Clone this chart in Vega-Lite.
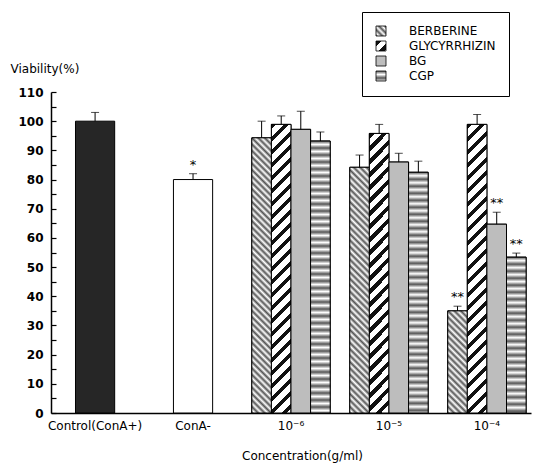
{
"$schema":"https://vega.github.io/schema/vega-lite/v6.json",
"width":480,"height":321,"autosize":"none",
"padding":{"left":51,"top":92,"right":7,"bottom":53},
"background":"white",
"config":{"view":{"stroke":null},"font":"DejaVu Sans",
"axisY":{"grid":false,"ticks":true,"tickSize":5,"tickColor":"black","tickWidth":1.2,"labelPadding":-13,"labelAlign":"right","domainColor":"black","domainWidth":1.5,"labelFont":"DejaVu Sans","labelFontSize":12,"labelFontWeight":"bold","labelColor":"black","labelOverlap":false,"titleAngle":0,"titleX":-41,"titleY":-24,"titleAlign":"left","titleBaseline":"middle","titleFont":"DejaVu Sans","titleFontSize":12,"titleFontWeight":"normal","titleColor":"black"}},
"params":[
{"name":"stB","value":[{"offset":0,"color":"#555"},{"offset":0.01,"color":"#fff"},{"offset":0.02,"color":"#555"},{"offset":0.03,"color":"#fff"},{"offset":0.04,"color":"#555"},{"offset":0.05,"color":"#fff"},{"offset":0.06,"color":"#555"},{"offset":0.07,"color":"#fff"},{"offset":0.08,"color":"#555"},{"offset":0.09,"color":"#fff"},{"offset":0.1,"color":"#555"},{"offset":0.11,"color":"#fff"},{"offset":0.12,"color":"#555"},{"offset":0.13,"color":"#fff"},{"offset":0.14,"color":"#555"},{"offset":0.15,"color":"#fff"},{"offset":0.16,"color":"#555"},{"offset":0.17,"color":"#fff"},{"offset":0.18,"color":"#555"},{"offset":0.19,"color":"#fff"},{"offset":0.2,"color":"#555"},{"offset":0.21,"color":"#fff"},{"offset":0.22,"color":"#555"},{"offset":0.23,"color":"#fff"},{"offset":0.24,"color":"#555"},{"offset":0.25,"color":"#fff"},{"offset":0.26,"color":"#555"},{"offset":0.27,"color":"#fff"},{"offset":0.28,"color":"#555"},{"offset":0.29,"color":"#fff"},{"offset":0.3,"color":"#555"},{"offset":0.31,"color":"#fff"},{"offset":0.32,"color":"#555"},{"offset":0.33,"color":"#fff"},{"offset":0.34,"color":"#555"},{"offset":0.35,"color":"#fff"},{"offset":0.36,"color":"#555"},{"offset":0.37,"color":"#fff"},{"offset":0.38,"color":"#555"},{"offset":0.39,"color":"#fff"},{"offset":0.4,"color":"#555"},{"offset":0.41,"color":"#fff"},{"offset":0.42,"color":"#555"},{"offset":0.43,"color":"#fff"},{"offset":0.44,"color":"#555"},{"offset":0.45,"color":"#fff"},{"offset":0.46,"color":"#555"},{"offset":0.47,"color":"#fff"},{"offset":0.48,"color":"#555"},{"offset":0.49,"color":"#fff"},{"offset":0.5,"color":"#555"},{"offset":0.51,"color":"#fff"},{"offset":0.52,"color":"#555"},{"offset":0.53,"color":"#fff"},{"offset":0.54,"color":"#555"},{"offset":0.55,"color":"#fff"},{"offset":0.56,"color":"#555"},{"offset":0.57,"color":"#fff"},{"offset":0.58,"color":"#555"},{"offset":0.59,"color":"#fff"},{"offset":0.6,"color":"#555"},{"offset":0.61,"color":"#fff"},{"offset":0.62,"color":"#555"},{"offset":0.63,"color":"#fff"},{"offset":0.64,"color":"#555"},{"offset":0.65,"color":"#fff"},{"offset":0.66,"color":"#555"},{"offset":0.67,"color":"#fff"},{"offset":0.68,"color":"#555"},{"offset":0.69,"color":"#fff"},{"offset":0.7,"color":"#555"},{"offset":0.71,"color":"#fff"},{"offset":0.72,"color":"#555"},{"offset":0.73,"color":"#fff"},{"offset":0.74,"color":"#555"},{"offset":0.75,"color":"#fff"},{"offset":0.76,"color":"#555"},{"offset":0.77,"color":"#fff"},{"offset":0.78,"color":"#555"},{"offset":0.79,"color":"#fff"},{"offset":0.8,"color":"#555"},{"offset":0.81,"color":"#fff"},{"offset":0.82,"color":"#555"},{"offset":0.83,"color":"#fff"},{"offset":0.84,"color":"#555"},{"offset":0.85,"color":"#fff"},{"offset":0.86,"color":"#555"},{"offset":0.87,"color":"#fff"},{"offset":0.88,"color":"#555"},{"offset":0.89,"color":"#fff"},{"offset":0.9,"color":"#555"},{"offset":0.91,"color":"#fff"},{"offset":0.92,"color":"#555"},{"offset":0.93,"color":"#fff"},{"offset":0.94,"color":"#555"},{"offset":0.95,"color":"#fff"},{"offset":0.96,"color":"#555"},{"offset":0.97,"color":"#fff"},{"offset":0.98,"color":"#555"},{"offset":0.99,"color":"#fff"},{"offset":1,"color":"#555"}]},
{"name":"stG","value":[{"offset":0,"color":"#111"},{"offset":0.016,"color":"#111"},{"offset":0.016,"color":"#fff"},{"offset":0.04,"color":"#fff"},{"offset":0.04,"color":"#111"},{"offset":0.056,"color":"#111"},{"offset":0.056,"color":"#fff"},{"offset":0.08,"color":"#fff"},{"offset":0.08,"color":"#111"},{"offset":0.096,"color":"#111"},{"offset":0.096,"color":"#fff"},{"offset":0.12,"color":"#fff"},{"offset":0.12,"color":"#111"},{"offset":0.136,"color":"#111"},{"offset":0.136,"color":"#fff"},{"offset":0.16,"color":"#fff"},{"offset":0.16,"color":"#111"},{"offset":0.176,"color":"#111"},{"offset":0.176,"color":"#fff"},{"offset":0.2,"color":"#fff"},{"offset":0.2,"color":"#111"},{"offset":0.216,"color":"#111"},{"offset":0.216,"color":"#fff"},{"offset":0.24,"color":"#fff"},{"offset":0.24,"color":"#111"},{"offset":0.256,"color":"#111"},{"offset":0.256,"color":"#fff"},{"offset":0.28,"color":"#fff"},{"offset":0.28,"color":"#111"},{"offset":0.296,"color":"#111"},{"offset":0.296,"color":"#fff"},{"offset":0.32,"color":"#fff"},{"offset":0.32,"color":"#111"},{"offset":0.336,"color":"#111"},{"offset":0.336,"color":"#fff"},{"offset":0.36,"color":"#fff"},{"offset":0.36,"color":"#111"},{"offset":0.376,"color":"#111"},{"offset":0.376,"color":"#fff"},{"offset":0.4,"color":"#fff"},{"offset":0.4,"color":"#111"},{"offset":0.416,"color":"#111"},{"offset":0.416,"color":"#fff"},{"offset":0.44,"color":"#fff"},{"offset":0.44,"color":"#111"},{"offset":0.456,"color":"#111"},{"offset":0.456,"color":"#fff"},{"offset":0.48,"color":"#fff"},{"offset":0.48,"color":"#111"},{"offset":0.496,"color":"#111"},{"offset":0.496,"color":"#fff"},{"offset":0.52,"color":"#fff"},{"offset":0.52,"color":"#111"},{"offset":0.536,"color":"#111"},{"offset":0.536,"color":"#fff"},{"offset":0.56,"color":"#fff"},{"offset":0.56,"color":"#111"},{"offset":0.576,"color":"#111"},{"offset":0.576,"color":"#fff"},{"offset":0.6,"color":"#fff"},{"offset":0.6,"color":"#111"},{"offset":0.616,"color":"#111"},{"offset":0.616,"color":"#fff"},{"offset":0.64,"color":"#fff"},{"offset":0.64,"color":"#111"},{"offset":0.656,"color":"#111"},{"offset":0.656,"color":"#fff"},{"offset":0.68,"color":"#fff"},{"offset":0.68,"color":"#111"},{"offset":0.696,"color":"#111"},{"offset":0.696,"color":"#fff"},{"offset":0.72,"color":"#fff"},{"offset":0.72,"color":"#111"},{"offset":0.736,"color":"#111"},{"offset":0.736,"color":"#fff"},{"offset":0.76,"color":"#fff"},{"offset":0.76,"color":"#111"},{"offset":0.776,"color":"#111"},{"offset":0.776,"color":"#fff"},{"offset":0.8,"color":"#fff"},{"offset":0.8,"color":"#111"},{"offset":0.816,"color":"#111"},{"offset":0.816,"color":"#fff"},{"offset":0.84,"color":"#fff"},{"offset":0.84,"color":"#111"},{"offset":0.856,"color":"#111"},{"offset":0.856,"color":"#fff"},{"offset":0.88,"color":"#fff"},{"offset":0.88,"color":"#111"},{"offset":0.896,"color":"#111"},{"offset":0.896,"color":"#fff"},{"offset":0.92,"color":"#fff"},{"offset":0.92,"color":"#111"},{"offset":0.936,"color":"#111"},{"offset":0.936,"color":"#fff"},{"offset":0.96,"color":"#fff"},{"offset":0.96,"color":"#111"},{"offset":0.976,"color":"#111"},{"offset":0.976,"color":"#fff"},{"offset":1,"color":"#fff"}]}
],
"data":{"values":[
{"group":"Control(ConA+)","v":100,"hi":103},
{"group":"ConA-","v":80,"hi":82,"sig":"*"},
{"group":"10⁻⁶","series":"BERBERINE","v":94.3,"hi":100},
{"group":"10⁻⁶","series":"GLYCYRRHIZIN","v":98.9,"hi":101.8},
{"group":"10⁻⁶","series":"BG","v":97.2,"hi":103.4},
{"group":"10⁻⁶","series":"CGP","v":93.2,"hi":96.3},
{"group":"10⁻⁵","series":"BERBERINE","v":84.2,"hi":88.4},
{"group":"10⁻⁵","series":"GLYCYRRHIZIN","v":95.8,"hi":98.9},
{"group":"10⁻⁵","series":"BG","v":86,"hi":89},
{"group":"10⁻⁵","series":"CGP","v":82.5,"hi":86.3},
{"group":"10⁻⁴","series":"BERBERINE","v":35,"hi":36.6,"sig":"**"},
{"group":"10⁻⁴","series":"GLYCYRRHIZIN","v":98.9,"hi":102.3},
{"group":"10⁻⁴","series":"BG","v":64.7,"hi":68.8,"sig":"**"},
{"group":"10⁻⁴","series":"CGP","v":53.4,"hi":54.8,"sig":"**"}
]},
"encoding":{
"x":{"field":"group","type":"nominal","title":"Concentration(g/ml)",
"scale":{"domain":["Control(ConA+)","ConA-","10⁻⁶","10⁻⁵","10⁻⁴"],"paddingInner":0.2,"paddingOuter":0.05},
"axis":{"labelAngle":0,"ticks":false,"tickSize":0,"labelPadding":7,"labelFont":"DejaVu Sans","labelFontSize":12,"labelColor":"black","domainColor":"black","domainWidth":1.5,"titleFont":"DejaVu Sans","titleFontSize":12,"titleFontWeight":"normal","titleColor":"black","titleX":251,"titleY":42,"titleBaseline":"middle","titleAlign":"center"}}
},
"layer":[
{"transform":[{"filter":"!isValid(datum.series)"}],
"mark":{"type":"bar","width":{"band":0.5},"stroke":"black","strokeWidth":1,"fill":{"expr":"datum.group=='ConA-' ? '#ffffff' : '#262626'"}},
"encoding":{"y":{"field":"v","type":"quantitative","title":"Viability(%)","scale":{"domain":[0,110],"nice":false},
"axis":{"orient":"right","offset":-480,"values":[0,5,10,15,20,25,30,35,40,45,50,55,60,65,70,75,80,85,90,95,100,105,110],"labelExpr":"datum.value % 10 == 0 ? datum.label : ''"}}}
},
{"transform":[{"filter":"isValid(datum.series)"}],
"mark":{"type":"bar","stroke":"black","strokeWidth":1},
"encoding":{
"y":{"field":"v","type":"quantitative","stack":null,"title":"Viability(%)","axis":{"orient":"right","offset":-480,"values":[0,5,10,15,20,25,30,35,40,45,50,55,60,65,70,75,80,85,90,95,100,105,110],"labelExpr":"datum.value % 10 == 0 ? datum.label : ''"}},
"xOffset":{"field":"series","type":"nominal","scale":{"domain":["BERBERINE","GLYCYRRHIZIN","BG","CGP"],"paddingInner":0,"paddingOuter":0}},
"fill":{"field":"series","type":"nominal","scale":{"domain":["BERBERINE","GLYCYRRHIZIN","BG","CGP"],"range":[{"expr":"{gradient:'linear',x1:0,y1:1,x2:16,y2:-15,stops:stB}"},{"expr":"{gradient:'linear',x1:0,y1:0,x2:16.25,y2:16.25,stops:stG}"},"#bdbdbd",{"expr":"{gradient:'linear',x1:0,y1:0,x2:0,y2:35,stops:stB}"}]},
"legend":{"title":null,"orient":"none","legendX":311,"legendY":-80,"direction":"vertical","strokeColor":"black","fillColor":"white","padding":13,"symbolType":"square","symbolSize":100,"symbolStrokeColor":"black","symbolStrokeWidth":0.8,"labelFont":"DejaVu Sans","labelFontSize":12,"labelColor":"black","labelOffset":22,"rowPadding":1}}
}
},
{"transform":[{"filter":"isValid(datum.series)"}],
"mark":{"type":"bar","stroke":"black","strokeWidth":1,"fill":{"expr":"datum.series=='BERBERINE' ? {gradient:'linear',x1:0,y1:1,x2:6272/(384.2+pow(scale('y',0)-scale('y',datum.v),2)),y2:1-320*(scale('y',0)-scale('y',datum.v))/(384.2+pow(scale('y',0)-scale('y',datum.v),2)),stops:stB} : datum.series=='GLYCYRRHIZIN' ? {gradient:'linear',x1:0,y1:0,x2:6370/(384.2+pow(scale('y',0)-scale('y',datum.v),2)),y2:325*(scale('y',0)-scale('y',datum.v))/(384.2+pow(scale('y',0)-scale('y',datum.v),2)),stops:stG} : datum.series=='CGP' ? {gradient:'linear',x1:0,y1:0,x2:0,y2:350/(scale('y',0)-scale('y',datum.v)),stops:stB} : '#bdbdbd'"}},
"encoding":{
"y":{"field":"v","type":"quantitative","stack":null,"title":"Viability(%)","axis":{"orient":"right","offset":-480,"values":[0,5,10,15,20,25,30,35,40,45,50,55,60,65,70,75,80,85,90,95,100,105,110],"labelExpr":"datum.value % 10 == 0 ? datum.label : ''"}},
"xOffset":{"field":"series","type":"nominal"}}
},
{"transform":[{"filter":"!isValid(datum.series)"}],
"mark":{"type":"rule","color":"black","strokeWidth":1},
"encoding":{"y":{"field":"v","type":"quantitative","title":"Viability(%)","axis":{"orient":"right","offset":-480,"values":[0,5,10,15,20,25,30,35,40,45,50,55,60,65,70,75,80,85,90,95,100,105,110],"labelExpr":"datum.value % 10 == 0 ? datum.label : ''"}},"y2":{"field":"hi"}}},
{"transform":[{"filter":"!isValid(datum.series)"}],
"mark":{"type":"tick","color":"black","size":8,"thickness":1,"orient":"horizontal"},
"encoding":{"y":{"field":"hi","type":"quantitative","title":"Viability(%)","axis":{"orient":"right","offset":-480,"values":[0,5,10,15,20,25,30,35,40,45,50,55,60,65,70,75,80,85,90,95,100,105,110],"labelExpr":"datum.value % 10 == 0 ? datum.label : ''"}}}},
{"transform":[{"filter":"!isValid(datum.series) && isValid(datum.sig)"}],
"mark":{"type":"text","fontSize":13,"baseline":"alphabetic","dy":-5,"fill":"black","font":"DejaVu Sans"},
"encoding":{"y":{"field":"hi","type":"quantitative","title":"Viability(%)","axis":{"orient":"right","offset":-480,"values":[0,5,10,15,20,25,30,35,40,45,50,55,60,65,70,75,80,85,90,95,100,105,110],"labelExpr":"datum.value % 10 == 0 ? datum.label : ''"}},"text":{"field":"sig"}}},
{"transform":[{"filter":"isValid(datum.series)"}],
"mark":{"type":"rule","color":"black","strokeWidth":1},
"encoding":{"y":{"field":"v","type":"quantitative","title":"Viability(%)","axis":{"orient":"right","offset":-480,"values":[0,5,10,15,20,25,30,35,40,45,50,55,60,65,70,75,80,85,90,95,100,105,110],"labelExpr":"datum.value % 10 == 0 ? datum.label : ''"}},"y2":{"field":"hi"},"xOffset":{"field":"series","type":"nominal"}}},
{"transform":[{"filter":"isValid(datum.series)"}],
"mark":{"type":"tick","color":"black","size":8,"thickness":1,"orient":"horizontal"},
"encoding":{"y":{"field":"hi","type":"quantitative","title":"Viability(%)","axis":{"orient":"right","offset":-480,"values":[0,5,10,15,20,25,30,35,40,45,50,55,60,65,70,75,80,85,90,95,100,105,110],"labelExpr":"datum.value % 10 == 0 ? datum.label : ''"}},"xOffset":{"field":"series","type":"nominal"}}},
{"transform":[{"filter":"isValid(datum.series) && isValid(datum.sig)"}],
"mark":{"type":"text","fontSize":13,"baseline":"alphabetic","dy":-5,"fill":"black","font":"DejaVu Sans"},
"encoding":{"y":{"field":"hi","type":"quantitative","title":"Viability(%)","axis":{"orient":"right","offset":-480,"values":[0,5,10,15,20,25,30,35,40,45,50,55,60,65,70,75,80,85,90,95,100,105,110],"labelExpr":"datum.value % 10 == 0 ? datum.label : ''"}},"xOffset":{"field":"series","type":"nominal"},"text":{"field":"sig"}}}
]
}
